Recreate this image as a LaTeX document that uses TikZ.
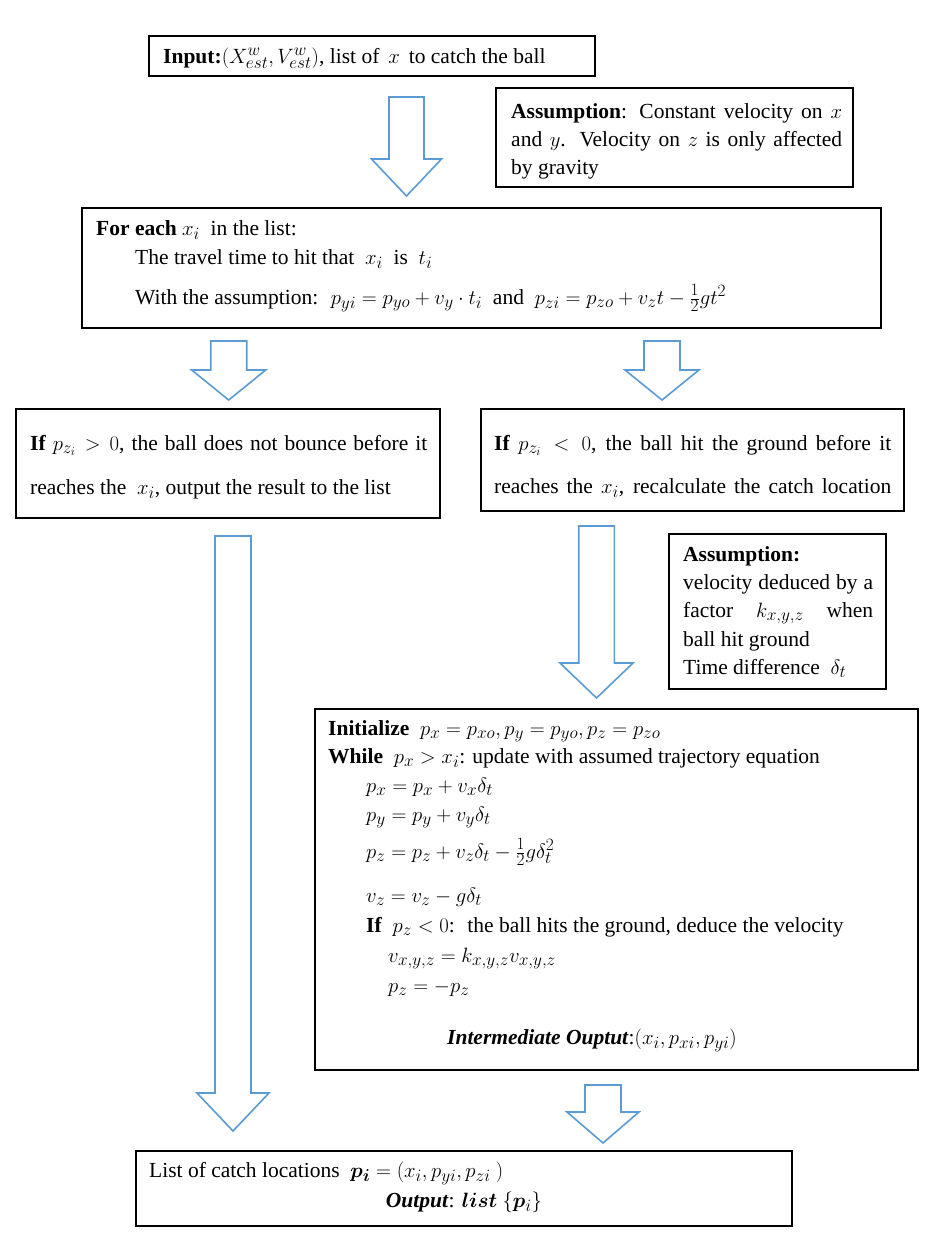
\documentclass[tikz,border=0pt]{standalone}
\usepackage{fontspec}
\usepackage{bm}
\setmainfont{Liberation Serif}
\DeclareMathSizes{21.5}{22.5}{16}{12}
\definecolor{arrowblue}{HTML}{5B9BD5}
\tikzset{
  box/.style={draw=black, line width=1.1pt, fill=white, inner sep=0pt},
  txt/.style={anchor=base west, inner sep=0pt, font=\fontsize{21.5}{26}\selectfont},
  blockarr/.style={draw=arrowblue, line width=1.6pt, fill=white, line join=miter},
}
% cx, top, headbase, tip, shaft half width, head half width
\newcommand{\blockarrow}[6]{%
  \draw[blockarr] (#1-#5,#2) -- (#1+#5,#2) -- (#1+#5,#3) -- (#1+#6,#3) -- (#1,#4)
     -- (#1-#6,#3) -- (#1-#5,#3) -- cycle;}
\begin{document}
\begin{tikzpicture}[x=1pt,y=-1pt]
\useasboundingbox (0,0) rectangle (935,1243);

% boxes
\node[box, minimum width=446pt, minimum height=40pt] (input) at (372,56) {};
\node[box, minimum width=357pt, minimum height=99pt] (ass1) at (674.5,137.5) {};
\node[box, minimum width=799pt, minimum height=120pt] (foreach) at (481.5,268) {};
\node[box, minimum width=424pt, minimum height=109pt] (ifl) at (228,463.5) {};
\node[box, minimum width=423pt, minimum height=102pt] (ifr) at (692.5,460) {};
\node[box, minimum width=217pt, minimum height=155pt] (ass2) at (777.5,611.5) {};
\node[box, minimum width=603pt, minimum height=361pt] (init) at (616.5,889.5) {};
\node[box, minimum width=656pt, minimum height=75pt] (out) at (464,1188.5) {};

% block arrows
\blockarrow{406.5}{97}{159}{196}{17.5}{35}
\blockarrow{228.7}{341}{370}{400}{18}{37}
\blockarrow{662}{341}{370}{400}{18}{37}
\blockarrow{233}{536}{1093}{1131}{18}{36}
\blockarrow{596.5}{526}{663}{698}{17.8}{36.5}
\blockarrow{603}{1085}{1112}{1143}{18}{36}

% input text
\node[txt] (tin) at (163,63) {\textbf{Input:}$(X^w_{est},V^w_{est})$, list of\, $x$\, to catch the ball};

% assumption 1
\node[txt] (ta1) at (511,118) {\makebox[331pt][s]{\textbf{Assumption}: Constant velocity on $x$}};
\node[txt] (ta2) at (511,146) {\makebox[331pt][s]{and $y$. Velocity on $z$ is only affected}};
\node[txt] (ta3) at (511,174) {by gravity};

% for each
\node[txt] (tf1) at (96,235) {\textbf{For each} $x_i$\ \ in the list:};
\node[txt] (tf2) at (135,264) {The travel time to hit that \ $x_i$ \ is \ $t_i$};
\node[txt] (tf3) at (135,304) {With the assumption: \ $p_{yi} = p_{yo} + v_y\cdot t_i$ \ and \ $p_{zi} = p_{zo} + v_z t - \frac{1}{2} g t^2$};

% if left
\node[txt] (tl1) at (30,450) {\makebox[397pt][s]{\textbf{If} $p_{z_i} > 0$, the ball does not bounce before it}};
\node[txt] (tl2) at (30,494) {reaches the \ $x_i$, output the result to the list};

% if right
\node[txt] (tr1) at (494,450) {\makebox[397pt][s]{\textbf{If} $p_{z_i} < 0$, the ball hit the ground before it}};
\node[txt] (tr2) at (494,493) {\makebox[397pt][s]{reaches the $x_i$, recalculate the catch location}};

% assumption 2
\node[txt] (tb1) at (683,561) {\textbf{Assumption:}};
\node[txt] (tb2) at (683,589) {\makebox[190pt][s]{velocity deduced by a}};
\node[txt] (tb3) at (683,617) {\makebox[190pt][s]{factor $k_{x,y,z}$ when}};
\node[txt] (tb4) at (683,646) {ball hit ground};
\node[txt] (tb5) at (683,674) {Time difference \ $\delta_t$};

% initialize box
\node[txt] (ti1) at (328,735) {\textbf{Initialize} \ $p_x = p_{xo}, p_y = p_{yo}, p_z = p_{zo}$};
\node[txt] (ti2) at (328,763) {\textbf{While} \ $p_x > x_i$: update with assumed trajectory equation};
\node[txt] (ti3) at (366,792) {$p_x = p_x + v_x\delta_t$};
\node[txt] (ti4) at (366,821) {$p_y = p_y + v_y\delta_t$};
\node[txt] (ti5) at (366,858) {$p_z = p_z + v_z\delta_t - \frac{1}{2} g\delta_t^2$};
\node[txt] (ti6) at (366,902) {$v_z = v_z - g\delta_t$};
\node[txt] (ti7) at (366,932) {\textbf{If} \ $p_z < 0$: \ the ball hits the ground, deduce the velocity};
\node[txt] (ti8) at (388,962) {$v_{x,y,z} = k_{x,y,z} v_{x,y,z}$};
\node[txt] (ti9) at (388,992) {$p_z = -p_z$};
\node[txt] (ti10) at (447,1044) {\textbf{\textit{Intermediate Ouptut}}:$(x_i, p_{xi}, p_{yi})$};

% output
\node[txt] (to1) at (149,1177) {List of catch locations \ $\bm{p_i} = (x_i, p_{yi}, p_{zi}\ )$};
\node[txt, anchor=base] (to2) at (464,1207) {\textbf{\textit{Output}}: $\bm{list}\ \{\bm{p}_i\}$};
\end{tikzpicture}
\end{document}
